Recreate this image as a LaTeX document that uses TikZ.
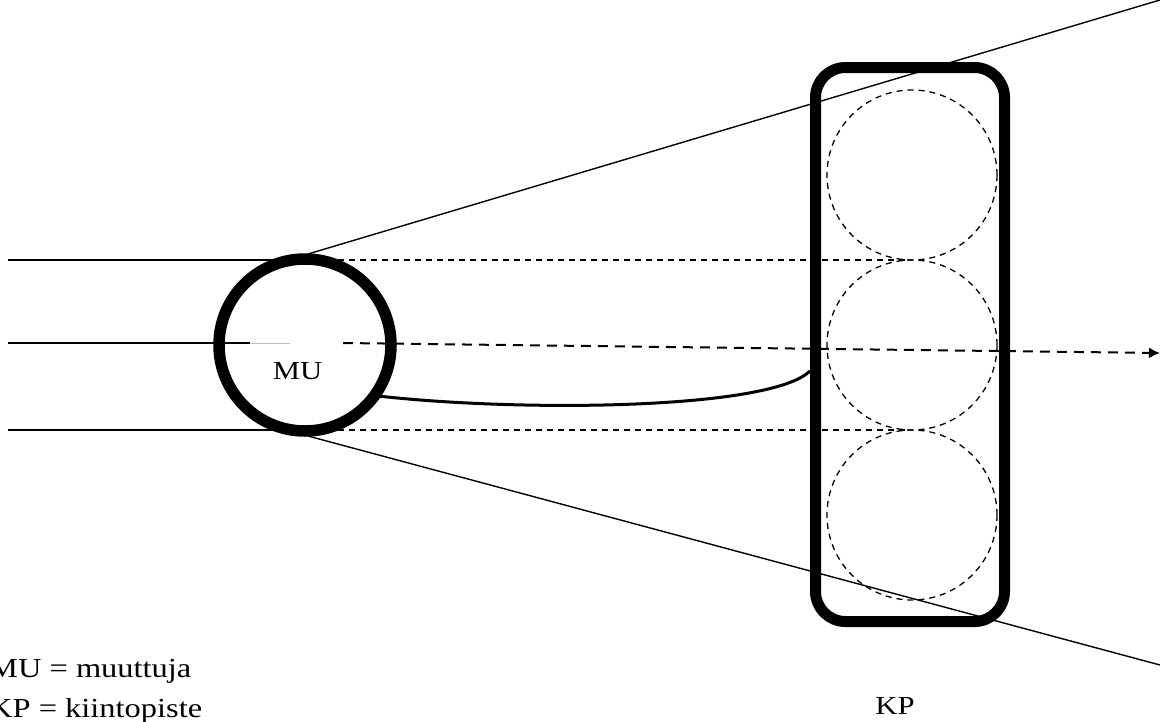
\documentclass[tikz,border=0pt]{standalone}
\usepackage{fontspec}
\setmainfont{Liberation Serif}
\newfontfamily\lblfont[FakeStretch=1.18]{Liberation Serif}
\usetikzlibrary{arrows.meta}
\begin{document}
\begin{tikzpicture}[x=1pt,y=-1pt,
  thinline/.style={line width=1.4pt},
  dashline/.style={line width=1.3pt, dash pattern=on 6pt off 5pt},
  bigring/.style={circle, draw, fill=white, line width=11.5pt, minimum size=172pt, inner sep=0pt},
  kpbox/.style={draw, rounded corners=30pt, line width=11pt, minimum width=189pt, minimum height=554pt, inner sep=0pt},
  slot/.style={circle, draw, dashline, minimum size=170pt, inner sep=0pt},
  lbl/.style={font=\lblfont\fontsize{26}{30}\selectfont, inner sep=0pt},
  leg/.style={font=\lblfont\fontsize{27.5}{30}\selectfont, inner sep=0pt}]
\useasboundingbox (0,0) rectangle (1160,721);
% coordinates
\coordinate (l1) at (8,260);
\coordinate (l2) at (8,343);
\coordinate (l3) at (8,430);
\coordinate (tr) at (1160,0);
\coordinate (br) at (1160,665);
\coordinate (arrowend) at (1160,353);
\coordinate (d1) at (905,260);
\coordinate (d3) at (905,430);
% dashed slots
\node[slot] (s1) at (912,175) {};
\node[slot] (s2) at (912,345) {};
\node[slot] (s3) at (912,515) {};
% lines under ring
\draw[thinline] (l1) -- (305,260);
\draw[thinline] (l3) -- (305,430);
\draw[dashline] (305,260) -- (d1);
\draw[dashline] (305,430) -- (d3);
\coordinate (ct) at (308,254);
\coordinate (cb) at (308,436);
\draw[thinline] (ct) -- (tr);
\draw[thinline] (cb) -- (br);
% ring
\node[bigring] (mu) at (305,345) {};
% middle line
\coordinate (m1) at (250,343);
\coordinate (m2) at (290,343);
\coordinate (m3) at (343,343);
\draw[thinline] (l2) -- (m1);
\draw[line width=0.8pt, black!25] (m1) -- (m2);
\draw[line width=2pt, dash pattern=on 10pt off 7pt, -{Latex[length=11pt,width=11pt]}] (m3) -- (arrowend);
% KP box
\node[kpbox] (kp) at (910,344.5) {};
% curve
\coordinate (c1) at (378,396);
\coordinate (c2) at (810,371);
\draw[line width=3pt] (c1) .. controls (520,412) and (770,410) .. (c2);
% labels
\node[lbl, anchor=base] (mutxt) at (297.5,379) {MU};
\node[lbl, anchor=base] (kptxt) at (895,714) {KP};
\node[leg, anchor=base west] (leg1) at (-11,677) {MU = muuttuja};
\node[leg, anchor=base west] (leg2) at (-11,717) {KP = kiintopiste};
\end{tikzpicture}
\end{document}
